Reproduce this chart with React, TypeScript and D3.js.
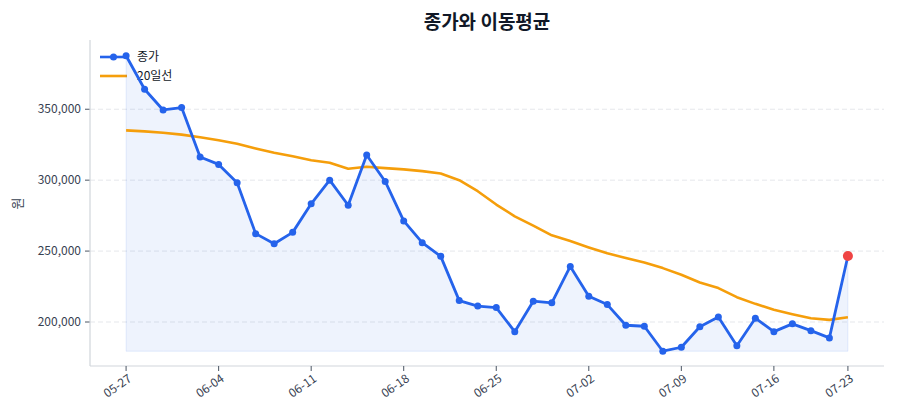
import React from "react";
import * as d3 from "d3";

// trading days shown on the chart
const dates = [
  "05-27", "05-28", "05-29", "05-30", "06-02", "06-04", "06-05", "06-06", "06-09", "06-10",
  "06-11", "06-12", "06-13", "06-16", "06-17", "06-18", "06-19", "06-20", "06-23", "06-24",
  "06-25", "06-26", "06-27", "06-30", "07-01", "07-02", "07-03", "07-04", "07-07", "07-08",
  "07-09", "07-10", "07-11", "07-14", "07-15", "07-16", "07-17", "07-18", "07-21", "07-23",
];

const closes = [
  387700, 364100, 349500, 351200, 316300, 311100, 298200, 262300, 255200, 263200,
  283300, 300000, 282300, 317700, 299100, 271300, 255900, 246300, 215100, 211200,
  210200, 193200, 214700, 213500, 239200, 218200, 212300, 197700, 197000, 179400,
  182200, 196700, 203600, 183300, 202700, 193200, 198700, 193900, 188800, 246500,
];

const ma20 = [
  335100, 334400, 333400, 332100, 330200, 328100, 325700, 322400, 319400, 316800,
  314100, 312300, 308100, 309500, 308500, 307600, 306400, 304700, 300000, 292200,
  282800, 274500, 268000, 261100, 257100, 252600, 248400, 245100, 242000, 238000,
  233300, 227900, 223900, 217500, 212800, 208600, 205500, 202700, 201500, 203400,
];

const yTicks = [200000, 250000, 300000, 350000];
const xTickIdx = [0, 5, 10, 15, 20, 25, 30, 35, 39];

const W = 900;
const H = 420;
const left = 90, right = 884, top = 41, bottom = 366;
const font = '"Noto Sans CJK KR", "Noto Sans", sans-serif';

const App = () => {
  const n = closes.length;
  const pad = (n - 1) * 0.05;
  const x = d3.scaleLinear().domain([-pad, n - 1 + pad]).range([left, right]);

  const lo = d3.min([...closes, ...ma20]) as number;
  const hi = d3.max([...closes, ...ma20]) as number;
  const ypad = (hi - lo) * 0.05;
  const y = d3.scaleLinear().domain([lo - ypad, hi + ypad]).range([bottom, top]);

  const minClose = d3.min(closes) as number;
  const area = d3.area<number>()
    .x((d, i) => x(i))
    .y0(y(minClose))
    .y1(d => y(d));
  const line = d3.line<number>().x((d, i) => x(i)).y(d => y(d));

  const fmt = d3.format(",");
  const last = n - 1;

  return (
    <div style={{ position: "fixed", left: 0, top: 0 }}>
      <svg width={W} height={H} style={{ display: "block", background: "#fff" }} fontFamily={font}>
        <text x={(left + right) / 2} y={29} textAnchor="middle" fontSize={19} fontWeight={700} fill="#111827">
          종가와 이동평균
        </text>

        {yTicks.map(t => (
          <g key={t}>
            <line x1={left} x2={right} y1={y(t)} y2={y(t)} stroke="#e5e7eb" strokeWidth={1} strokeDasharray="5,3" />
            <line x1={left - 5} x2={left} y1={y(t)} y2={y(t)} stroke="#4b5563" strokeWidth={1} />
            <text x={left - 9} y={y(t)} dy="0.35em" textAnchor="end" fontSize={12} fill="#374151">
              {fmt(t)}
            </text>
          </g>
        ))}

        <text transform={`translate(22,${(top + bottom) / 2}) rotate(-90)`} textAnchor="middle" fontSize={13} fill="#374151">
          원
        </text>

        {/* legend */}
        <g>
          <line x1={100} x2={127} y1={57} y2={57} stroke="#2563eb" strokeWidth={2.6} />
          <circle cx={113.5} cy={57} r={3.5} fill="#2563eb" />
          <text x={137} y={57} dy="0.35em" fontSize={12} fill="#111827">종가</text>
          <line x1={100} x2={127} y1={76} y2={76} stroke="#f59e0b" strokeWidth={2.6} />
          <text x={137} y={76} dy="0.35em" fontSize={12} fill="#111827">20일선</text>
        </g>

        <path d={area(closes) || ""} fill="#2563eb" fillOpacity={0.08} stroke="#2563eb" strokeOpacity={0.1} strokeWidth={1} />
        <path d={line(ma20) || ""} fill="none" stroke="#f59e0b" strokeWidth={2.6} strokeLinejoin="round" />
        <path d={line(closes) || ""} fill="none" stroke="#2563eb" strokeWidth={2.8} strokeLinejoin="round" />
        {closes.map((d, i) => (
          <circle key={i} cx={x(i)} cy={y(d)} r={3.5} fill="#2563eb" />
        ))}
        <circle cx={x(last)} cy={y(closes[last])} r={5} fill="#ef4444" />

        <line x1={left} x2={left} y1={top - 1} y2={bottom} stroke="#d1d5db" strokeWidth={1.2} />
        <line x1={left} x2={right} y1={bottom} y2={bottom} stroke="#d1d5db" strokeWidth={1.2} />

        {xTickIdx.map(i => (
          <g key={i} transform={`translate(${x(i)},${bottom})`}>
            <line y1={0} y2={5} stroke="#4b5563" strokeWidth={1} />
            <text transform="translate(4,11) rotate(-35)" textAnchor="end" fontSize={12} fill="#374151" dy="0.35em">
              {dates[i]}
            </text>
          </g>
        ))}
      </svg>
    </div>
  );
};

export default App;
